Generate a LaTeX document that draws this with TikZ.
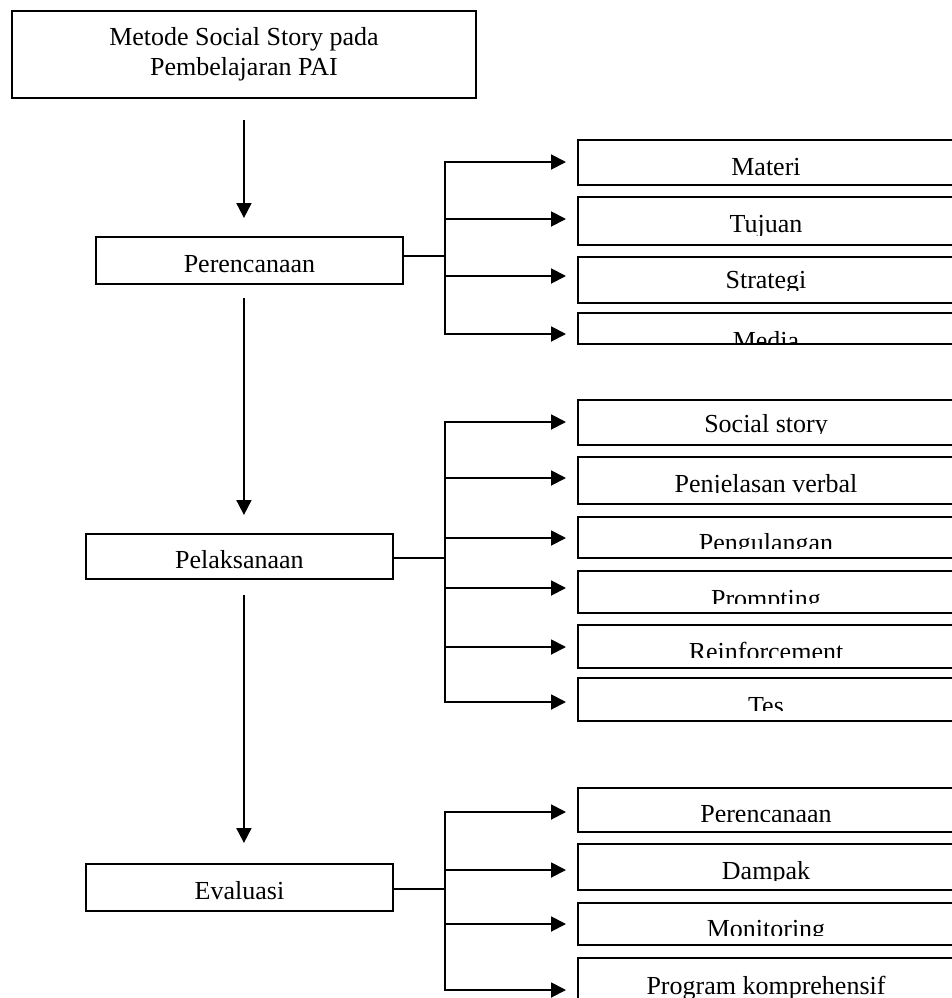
\documentclass[tikz,border=0pt]{standalone}
\usepackage{fontspec}
\setmainfont{Liberation Serif}
\usetikzlibrary{arrows.meta}
\newcommand\RB[6]{%
  \node[rbox, minimum height={(#3-#2)*1pt}] (#1) at (577,#2) {};
  \begin{scope}\clip (577,#2) rectangle (965,#5);
  \node[lbl] at (766,#4) {#6};\end{scope}}
\begin{document}
\begin{tikzpicture}[x=1pt,y=-1pt,
  line width=1.9pt,
  lbox/.style={draw, line width=1.9pt, inner xsep=0pt, inner ysep=0pt, anchor=north west, font=\fontsize{26}{30}\selectfont},
  rbox/.style={draw, line width=1.9pt, inner sep=0pt, anchor=north west, minimum width=385pt},
  lbl/.style={anchor=base, inner sep=0pt, font=\fontsize{26}{30}\selectfont},
  arr/.style={-{Triangle[length=15pt,width=15pt]}, line width=1.9pt},
  trunk/.style={line width=1.9pt, line cap=rect}]
\useasboundingbox[fill=white] (0,0) rectangle (951,998);

% left column
\node[lbox, minimum width=464pt, minimum height=87pt, align=center] (top) at (11,10) {Metode Social Story pada\\Pembelajaran PAI};
\node[lbox, minimum width=307pt, text height=35.7pt, text depth=11.3pt] (p1) at (95,236) {Perencanaan};
\node[lbox, minimum width=307pt, text height=35pt, text depth=10pt] (p2) at (85,533) {Pelaksanaan};
\node[lbox, minimum width=307pt, text height=36pt, text depth=11pt] (p3) at (85,863) {Evaluasi};

\draw[arr] (top.south |- 0,120) -- (top.south |- 0,218);
\draw[arr] (top.south |- 0,298) -- (top.south |- 0,515);
\draw[arr] (top.south |- 0,595) -- (top.south |- 0,843);

% right boxes
\RB{materi}{139}{184}{175}{184}{Materi}
\RB{tujuan}{196}{244}{232}{235}{Tujuan}
\RB{strategi}{256}{302}{288}{290.5}{Strategi}
\RB{media}{312}{343}{349}{343}{Media}
\RB{social}{399}{444}{432}{433}{Social story}
\RB{verbal}{456}{503}{492}{492}{Penjelasan verbal}
\RB{ulang}{516}{557}{551}{548}{Pengulangan}
\RB{prompt}{570}{612}{607}{603}{Prompting}
\RB{reinf}{624}{667}{660}{657}{Reinforcement}
\RB{tes}{677}{720}{714}{710}{Tes}
\RB{eperenc}{787}{831}{822}{821}{Perencanaan}
\RB{dampak}{843}{889}{879}{880}{Dampak}
\RB{monit}{902}{944}{937}{935}{Monitoring}
\RB{program}{957}{1010}{994}{998}{Program komprehensif}

% section 1
\coordinate (j1) at (445,256);
\coordinate (a11) at (445,162);
\coordinate (a12) at (445,219);
\coordinate (a13) at (445,276);
\coordinate (a14) at (445,334);
\draw (p1.east |- j1) -- (j1);
\draw[trunk] (a11) -- (a14);
\draw[arr] (a11) -- ([xshift=-11pt]a11 -| materi.west);
\draw[arr] (a12) -- ([xshift=-11pt]a12 -| tujuan.west);
\draw[arr] (a13) -- ([xshift=-11pt]a13 -| strategi.west);
\draw[arr] (a14) -- ([xshift=-11pt]a14 -| media.west);

% section 2
\coordinate (j2) at (445,558);
\coordinate (a21) at (445,422);
\coordinate (a22) at (445,478);
\coordinate (a23) at (445,538);
\coordinate (a24) at (445,588);
\coordinate (a25) at (445,647);
\coordinate (a26) at (445,702);
\draw (p2.east |- j2) -- (j2);
\draw[trunk] (a21) -- (a26);
\draw[arr] (a21) -- ([xshift=-11pt]a21 -| social.west);
\draw[arr] (a22) -- ([xshift=-11pt]a22 -| verbal.west);
\draw[arr] (a23) -- ([xshift=-11pt]a23 -| ulang.west);
\draw[arr] (a24) -- ([xshift=-11pt]a24 -| prompt.west);
\draw[arr] (a25) -- ([xshift=-11pt]a25 -| reinf.west);
\draw[arr] (a26) -- ([xshift=-11pt]a26 -| tes.west);

% section 3
\coordinate (j3) at (445,889);
\coordinate (a31) at (445,812);
\coordinate (a32) at (445,870);
\coordinate (a33) at (445,924);
\coordinate (a34) at (445,990);
\draw (p3.east |- j3) -- (j3);
\draw[trunk] (a31) -- (a34);
\draw[arr] (a31) -- ([xshift=-11pt]a31 -| eperenc.west);
\draw[arr] (a32) -- ([xshift=-11pt]a32 -| dampak.west);
\draw[arr] (a33) -- ([xshift=-11pt]a33 -| monit.west);
\draw[arr] (a34) -- ([xshift=-11pt]a34 -| program.west);
\end{tikzpicture}
\end{document}
